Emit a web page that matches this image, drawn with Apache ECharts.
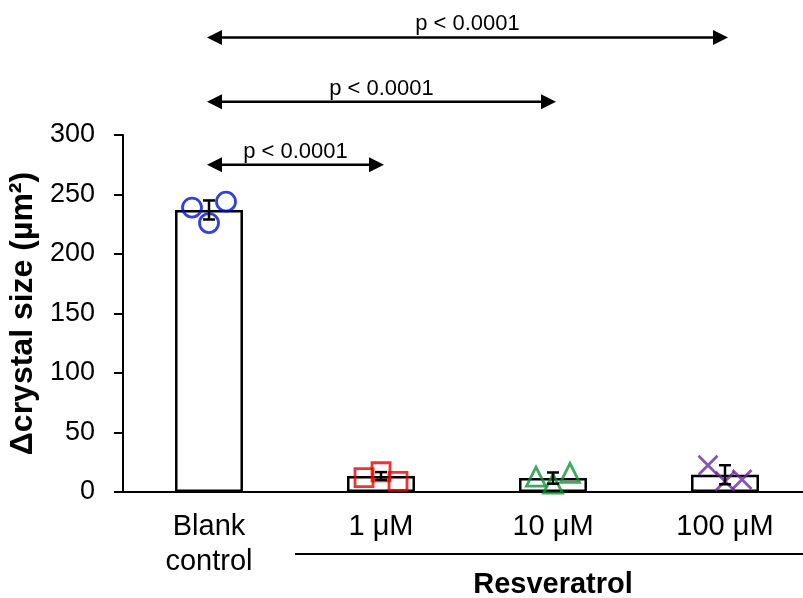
<!DOCTYPE html>
<html>
<head>
<meta charset="utf-8">
<script src="https://cdn.jsdelivr.net/npm/echarts@6/dist/echarts.min.js"></script>
<style>
html, body { margin: 0; padding: 0; background: #fff; }
#chart { width: 803px; height: 598px; }
</style>
</head>
<body>
<div id="chart"></div>
<script>
const FONT = '"Liberation Sans", Arial, sans-serif';

// categories + bar data (mean, error)
const categories = ['Blank\ncontrol', '1 μM', '10 μM', '100 μM'];
const barMeans = [237, 13.5, 11.7, 14.5];
const barErrors = [8, 3.2, 4.7, 8];

// individual points per group
const blankPoints = [239, 226, 244];
const res1Points = [12, 17, 9];
const res10Points = [13, 7, 16];
const res100Points = [22.5, 9, 10.5];

// comparison arrows (category index from -> to, drawn at y value)
const compareFrom = [0, 0, 0];
const compareTo = [1, 2, 3];
const compareLevel = [275, 328, 382];
const compareText = ['p < 0.0001', 'p < 0.0001', 'p < 0.0001'];

// group bracket under the axis
const groupFrom = 1;
const groupTo = 3;
const groupName = 'Resveratrol';

const JITTER = [-17, 0, 17];

function pointData(catIndex, list) {
  return list.map((v, j) => ({ value: [catIndex, v], symbolOffset: [JITTER[j], 0] }));
}

function hollow(color) {
  return { color: 'rgba(0,0,0,0)', borderColor: color, borderWidth: 2.8 };
}

const chart = echarts.init(document.getElementById('chart'));

const option = {
  animation: false,
  backgroundColor: '#fff',
  textStyle: { fontFamily: FONT },
  grid: { left: 123, top: 135, width: 688, height: 357, outerBoundsMode: 'none', containLabel: false },
  xAxis: {
    type: 'category',
    data: categories,
    axisLine: { lineStyle: { color: '#000', width: 2 } },
    axisTick: { length: 8, lineStyle: { color: '#000', width: 2 } },
    axisLabel: { color: '#000', fontSize: 29, lineHeight: 35, margin: 17, fontFamily: FONT, interval: 0 }
  },
  yAxis: {
    type: 'value',
    min: 0,
    max: 300,
    interval: 50,
    name: 'Δcrystal size (µm²)',
    nameLocation: 'middle',
    nameRotate: 90,
    nameGap: 75,
    nameTextStyle: { color: '#000', fontSize: 32, fontWeight: 'bold', fontFamily: FONT },
    splitLine: { show: false },
    axisLine: { show: true, lineStyle: { color: '#000', width: 2 } },
    axisTick: { show: true, length: 9, lineStyle: { color: '#000', width: 2 } },
    axisLabel: { color: '#000', fontSize: 27, margin: 28, fontFamily: FONT }
  },
  series: [
    {
      type: 'bar',
      data: barMeans,
      barWidth: '39.5%',
      itemStyle: { color: '#fff', borderColor: '#000', borderWidth: 2.5 },
      z: 2
    },
    {
      type: 'scatter', symbol: 'circle', symbolSize: 19,
      data: pointData(0, blankPoints), itemStyle: hollow('#0010d8'), z: 3
    },
    {
      type: 'scatter', symbol: 'rect', symbolSize: 18,
      data: pointData(1, res1Points), itemStyle: hollow('#f00000'), z: 3
    },
    {
      type: 'scatter', symbol: 'triangle', symbolSize: 19,
      data: pointData(2, res10Points), itemStyle: hollow('#0c9535'), z: 3
    },
    {
      type: 'scatter', symbol: 'path://M0,0L10,10M10,0L0,10', symbolSize: 19,
      data: pointData(3, res100Points), itemStyle: hollow('#6a2aa0'), z: 3
    },
    {
      // error bars
      type: 'custom',
      z: 4,
      data: barMeans.map((m, i) => [i, m, barErrors[i]]),
      renderItem: function (params, api) {
        const i = api.value(0);
        const top = api.coord([i, api.value(1) + api.value(2)]);
        const bot = api.coord([i, api.value(1) - api.value(2)]);
        const w = 6;
        const st = { stroke: '#000', lineWidth: 2.5 };
        return {
          type: 'group',
          children: [
            { type: 'line', shape: { x1: top[0], y1: top[1], x2: bot[0], y2: bot[1] }, style: st },
            { type: 'line', shape: { x1: top[0] - w, y1: top[1], x2: top[0] + w, y2: top[1] }, style: st },
            { type: 'line', shape: { x1: bot[0] - w, y1: bot[1], x2: bot[0] + w, y2: bot[1] }, style: st }
          ]
        };
      }
    },
    {
      // p-value arrows above the bars
      type: 'custom',
      clip: false,
      z: 5,
      dimensions: ['from', 'level', 'to'],
      encode: { x: 'from', y: 'level' },
      data: compareFrom.map((f, i) => [f, compareLevel[i], compareTo[i]]),
      renderItem: function (params, api) {
        const a = api.coord([api.value(0), api.value(1)]);
        const b = api.coord([api.value(2), api.value(1)]);
        const y = a[1];
        const x0 = a[0] - 2;
        const x1 = b[0] + 3;
        const hl = 15, hh = 7.5;
        return {
          type: 'group',
          children: [
            { type: 'line', shape: { x1: x0 + 8, y1: y, x2: x1 - 8, y2: y }, style: { stroke: '#000', lineWidth: 2.5 } },
            { type: 'polygon', shape: { points: [[x0, y], [x0 + hl, y - hh], [x0 + hl, y + hh]] }, style: { fill: '#000' } },
            { type: 'polygon', shape: { points: [[x1, y], [x1 - hl, y - hh], [x1 - hl, y + hh]] }, style: { fill: '#000' } },
            {
              type: 'text',
              style: {
                text: compareText[params.dataIndex],
                x: (x0 + x1) / 2, y: y - 2,
                align: 'center', verticalAlign: 'bottom',
                fontSize: 22, fontFamily: FONT, fill: '#000'
              }
            }
          ]
        };
      }
    },
    {
      // group line + name under the category labels
      type: 'custom',
      clip: false,
      z: 5,
      dimensions: ['from', 'base', 'to'],
      encode: { x: 'from', y: 'base' },
      data: [[groupFrom, 0, groupTo]],
      renderItem: function (params, api) {
        const p0 = api.coord([api.value(0), 0]);
        const p1 = api.coord([api.value(2), 0]);
        const bw = api.size([1, 0])[0];
        const y = p0[1] + 62;
        return {
          type: 'group',
          children: [
            { type: 'line', shape: { x1: p0[0] - bw / 2, y1: y, x2: p1[0] + bw / 2, y2: y }, style: { stroke: '#000', lineWidth: 2 } },
            {
              type: 'text',
              style: {
                text: groupName,
                x: (p0[0] + p1[0]) / 2, y: p0[1] + 93,
                align: 'center', verticalAlign: 'middle',
                fontSize: 29, fontWeight: 'bold', fontFamily: FONT, fill: '#000'
              }
            }
          ]
        };
      }
    }
  ]
};

chart.setOption(option);
</script>
</body>
</html>
